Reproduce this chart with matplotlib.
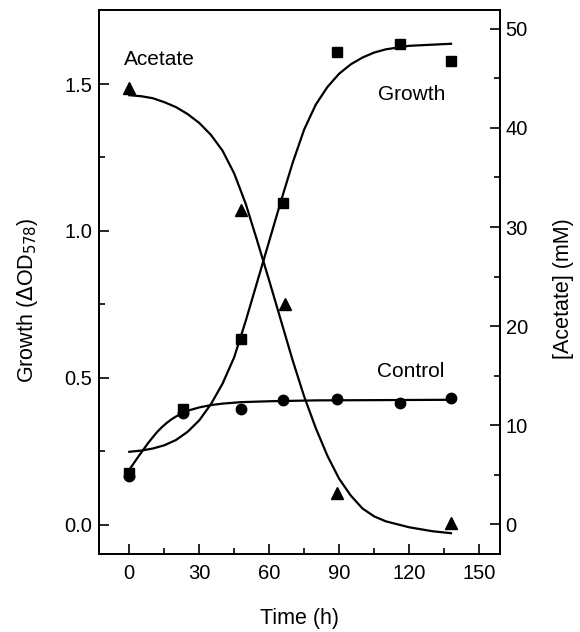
import matplotlib
matplotlib.use('Agg')
import matplotlib.pyplot as plt

plt.rcParams['font.family'] = ['Liberation Sans', 'DejaVu Sans']

# measured points
t_growth = [0, 23, 48, 66, 89, 116, 138]
od_growth = [0.177, 0.395, 0.633, 1.095, 1.609, 1.636, 1.578]

t_control = [0, 23, 48, 66, 89, 116, 138]
od_control = [0.167, 0.381, 0.395, 0.425, 0.429, 0.415, 0.432]

t_acetate = [0, 48, 67, 89, 138]
mm_acetate = [44.0, 31.7, 22.2, 3.2, 0.1]

# fitted curves
fit_t_growth = [0, 5, 10, 15, 20, 25, 30, 35, 40, 45, 50, 55, 60, 65, 70, 75, 80,
                85, 90, 95, 100, 105, 110, 120, 138]
fit_od_growth = [0.248, 0.252, 0.259, 0.27, 0.288, 0.316, 0.355, 0.41, 0.48, 0.57,
                 0.695, 0.83, 0.965, 1.10, 1.23, 1.345, 1.43, 1.49, 1.535, 1.567,
                 1.59, 1.607, 1.618, 1.63, 1.637]

fit_t_control = [0, 2, 4, 6, 8, 10, 12, 14, 16, 18, 20, 23, 26, 30, 35, 40, 48, 60,
                 80, 110, 138]
fit_od_control = [0.187, 0.21, 0.233, 0.255, 0.277, 0.297, 0.316, 0.332, 0.346, 0.358,
                  0.368, 0.38, 0.39, 0.399, 0.407, 0.412, 0.417, 0.42, 0.423, 0.424,
                  0.425]

fit_t_acetate = [0, 5, 10, 15, 20, 25, 30, 35, 40, 45, 50, 55, 60, 65, 70, 75, 80,
                 85, 90, 95, 100, 105, 110, 120, 130, 138]
fit_mm_acetate = [43.3, 43.2, 43.0, 42.6, 42.1, 41.4, 40.5, 39.3, 37.7, 35.4, 32.3,
                  28.5, 24.6, 20.6, 16.6, 12.9, 9.7, 6.9, 4.6, 2.9, 1.6, 0.8, 0.3,
                  -0.3, -0.7, -0.9]

fig = plt.figure(figsize=(5.8, 6.32), dpi=100)
ax = fig.add_axes([0.1707, 0.1234, 0.6913, 0.8608])
ax2 = ax.twinx()

lw = 1.6
ax.plot(fit_t_growth, fit_od_growth, color='black', lw=lw)
ax.plot(fit_t_control, fit_od_control, color='black', lw=lw)
ax2.plot(fit_t_acetate, fit_mm_acetate, color='black', lw=lw)

ax.plot(t_growth, od_growth, 's', color='black', ms=6.5)
ax.plot(t_control, od_control, 'o', color='black', ms=7.5)
ax2.plot(t_acetate, mm_acetate, '^', color='black', ms=8.5)

ax.set_xlim(-13, 159)
ax.set_ylim(-0.1, 1.752)
ax2.set_ylim(-3.0, 51.9)

ax.set_xticks([0, 30, 60, 90, 120, 150])
ax.set_xticks([15, 45, 75, 105, 135], minor=True)
ax.set_yticks([0.0, 0.5, 1.0, 1.5])
ax.set_yticklabels(['0.0', '0.5', '1.0', '1.5'])
ax.set_yticks([0.25, 0.75, 1.25], minor=True)
ax2.set_yticks([0, 10, 20, 30, 40, 50])
ax2.set_yticks([5, 15, 25, 35, 45], minor=True)

for a in (ax, ax2):
    a.tick_params(which='major', direction='in', length=7, width=1.2, labelsize=14.5)
    a.tick_params(which='minor', direction='in', length=4, width=1.2)
    for s in a.spines.values():
        s.set_linewidth(1.3)
ax.tick_params(axis='x', pad=7)
ax.tick_params(axis='y', pad=5)
ax2.tick_params(axis='y', pad=4)

ax.set_xlabel('Time (h)', fontsize=15.5, labelpad=18)
ax.set_ylabel('Growth ($\\Delta$OD$_{578}$)', fontsize=15.5)
ax2.set_ylabel('[Acetate] (mM)', fontsize=15.5)
ax.yaxis.set_label_coords(-0.147, 0.467)
ax2.yaxis.set_label_coords(1.132, 0.487)

ax.text(-2.1, 1.565, 'Acetate', fontsize=15, va='baseline', ha='left')
ax.text(106.7, 1.446, 'Growth', fontsize=15, va='baseline', ha='left')
ax.text(106.3, 0.503, 'Control', fontsize=15, va='baseline', ha='left')

fig.savefig('out.png', dpi=100)
